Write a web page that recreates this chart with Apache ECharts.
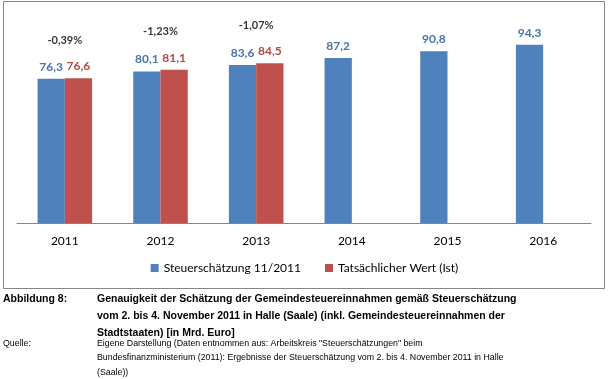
<!DOCTYPE html>
<html>
<head>
<meta charset="utf-8">
<script src="https://cdn.jsdelivr.net/npm/echarts@6/dist/echarts.min.js"></script>
<style>html,body{margin:0;padding:0;background:#fff}#c{width:609px;height:379px}</style>
</head>
<body>
<div id="c"></div>
<script>
const categories = ['2011', '2012', '2013', '2014', '2015', '2016'];
const steuerschaetzung = [76.3, 80.1, 83.6, 87.2, 90.8, 94.3];
const tatsaechlich = [76.6, 81.1, 84.5, null, null, null];
const abweichung = ['-0,39%', '-1,23%', '-1,07%', null, null, null];
const seriesNames = ['Steuerschätzung 11/2011', 'Tatsächlicher Wert (Ist)'];
const captionTitle = ['Genauigkeit der Schätzung der Gemeindesteuereinnahmen gemäß Steuerschätzung',
  'vom 2. bis 4. November 2011 in Halle (Saale) (inkl. Gemeindesteuereinnahmen der',
  'Stadtstaaten) [in Mrd. Euro]'];
const captionSource = ['Eigene Darstellung (Daten entnommen aus: Arbeitskreis "Steuerschätzungen" beim',
  'Bundesfinanzministerium (2011): Ergebnisse der Steuerschätzung vom 2. bis 4. November 2011 in Halle',
  '(Saale))'];

const fmt = v => v == null ? '' : v.toFixed(1).replace('.', ',');
const chartFont = 'Lato';
const capFont = 'Liberation Sans';

const graphic = [
  { type: 'rect', shape: { x: 3.5, y: 1.5, width: 601, height: 287 }, style: { fill: 'none', stroke: '#868686', lineWidth: 1 }, silent: true },
  { type: 'text', left: 3, top: 294, style: { text: 'Abbildung 8:', font: 'bold 10.5px ' + capFont, fill: '#000' } }
];
captionTitle.forEach((t, i) => graphic.push({ type: 'text', left: 97, top: 294 + i * 16.7, style: { text: t, font: 'bold 10.5px ' + capFont, fill: '#000' } }));
graphic.push({ type: 'text', left: 3, top: 339, style: { text: 'Quelle:', font: '8.8px ' + capFont, fill: '#000' } });
captionSource.forEach((t, i) => graphic.push({ type: 'text', left: 97, top: 339 + i * 14.3, style: { text: t, font: '8.8px ' + capFont, fill: '#000' } }));

const chart = echarts.init(document.getElementById('c'));
chart.setOption({
  animation: false,
  backgroundColor: '#fff',
  textStyle: { fontFamily: chartFont },
  grid: { left: 17, right: 18, top: 15, bottom: 156 },
  legend: {
    data: seriesNames, bottom: 100, left: 'center', itemWidth: 8, itemHeight: 8, itemGap: 24,
    icon: 'rect', textStyle: { fontSize: 12, color: '#000', fontFamily: chartFont }
  },
  xAxis: {
    type: 'category', data: categories,
    axisLine: { lineStyle: { color: '#868686' } },
    axisTick: { length: 5, lineStyle: { color: '#868686' } },
    axisLabel: { color: '#000', fontSize: 12, margin: 12 }
  },
  yAxis: { type: 'value', min: 0, max: 110, show: false },
  series: [
    {
      name: seriesNames[0], type: 'bar', data: steuerschaetzung, barGap: '0%', barCategoryGap: '43%',
      itemStyle: { color: '#4F81BD' },
      label: { show: true, position: 'top', distance: 6, color: '#4A74AC', fontWeight: 'bold', fontSize: 12, formatter: p => fmt(p.value) }
    },
    {
      name: seriesNames[1], type: 'bar', data: tatsaechlich,
      itemStyle: { color: '#C0504D' },
      label: { show: true, position: 'top', distance: 6, color: '#B04A47', fontWeight: 'bold', fontSize: 12, formatter: p => fmt(p.value) }
    },
    {
      type: 'scatter', data: tatsaechlich, symbolSize: 0, silent: true, legendHoverLink: false,
      label: { show: true, position: 'inside', offset: [0, -38], color: '#000', fontWeight: 'bold', fontSize: 11,
        formatter: p => abweichung[p.dataIndex] || '' }
    }
  ],
  graphic: graphic
});
</script>
</body>
</html>
